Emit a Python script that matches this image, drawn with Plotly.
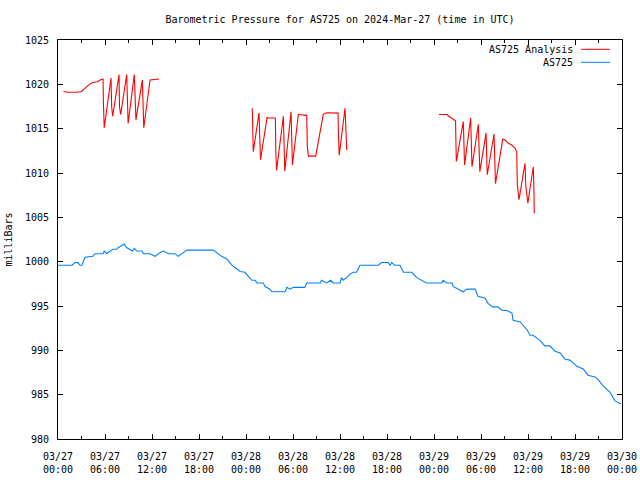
import plotly.graph_objects as go
import pandas as pd

# ---- data (hours since 2024-03-27 00:00 UTC, pressure in millibars) ----
START = "2024-03-27 00:00"

station_hours = [0, 1.8, 2.2, 2.55, 2.8, 3.05, 3.45, 4.45, 4.7, 5.75, 5.9, 6.2, 6.65, 7.0, 7.5, 7.7,
                 8.1, 8.45, 8.75, 9.2, 9.5, 9.75, 10.05, 10.75, 10.9, 11.75, 12.4, 13.0, 13.45, 14.1,
                 14.95, 15.35, 15.8, 16.45, 19.8, 20.25, 20.9, 21.55, 22.2, 22.8, 23.25, 23.85, 24.3,
                 24.75, 25.15, 25.4, 26.2, 26.45, 27.05, 27.3, 29.0, 29.2, 29.6, 30.05, 31.5, 31.75,
                 33.45, 33.65, 34.3, 34.8, 35.15, 36.0, 36.2, 36.4, 36.85, 37.3, 37.7, 38.1, 38.55,
                 40.9, 41.3, 42.15, 42.4, 42.6, 43.0, 43.65, 44.1, 45.15, 45.8, 46.45, 47.05, 49.0,
                 49.15, 49.65, 50.3, 50.45, 51.3, 51.7, 52.2, 53.25, 53.6, 54.5, 54.9, 55.5, 56.15,
                 56.7, 57.3, 57.95, 58.1, 59.0, 59.9, 60.25, 60.65, 61.55, 62.15, 62.8, 63.45, 64.1,
                 64.75, 65.35, 66.25, 67.05, 67.65, 68.55, 68.95, 69.6, 70.45, 71.1, 71.75, 71.9]
station_mb = [999.6, 999.6, 999.9, 999.9, 999.6, 999.6, 1000.5, 1000.6, 1000.9, 1000.9, 1001.2, 1000.9,
              1001.2, 1001.4, 1001.4, 1001.6, 1001.8, 1002.0, 1001.6, 1001.4, 1001.2, 1001.5, 1001.2,
              1001.2, 1000.9, 1000.9, 1000.6, 1001.0, 1001.2, 1000.9, 1000.9, 1000.6, 1000.9, 1001.3,
              1001.3, 1001.0, 1000.6, 1000.3, 999.6, 999.2, 998.9, 998.8, 998.3, 997.9, 997.9, 997.6,
              997.6, 997.2, 996.9, 996.6, 996.6, 997.1, 996.9, 997.1, 997.1, 997.6, 997.6, 997.9,
              997.6, 997.9, 997.6, 997.6, 998.2, 997.9, 998.2, 998.6, 998.8, 998.8, 999.6, 999.6,
              999.9, 999.9, 999.6, 999.9, 999.6, 999.6, 998.8, 998.8, 998.2, 997.9, 997.6, 997.6,
              997.9, 997.6, 997.6, 997.2, 996.8, 996.6, 996.9, 996.9, 996.1, 995.9, 995.3, 994.9,
              994.9, 994.5, 994.5, 994.2, 993.4, 993.2, 992.3, 991.7, 991.7, 991.1, 990.5, 990.5,
              989.9, 989.7, 989.0, 988.9, 988.2, 987.9, 987.2, 987.0, 986.7, 986.0, 985.3, 984.3,
              984.0, 984.0]

analysis_hours = [0.7, 1.3, 2.5, 3.0, 3.25, 3.6, 4.0, 4.4, 5.0, 5.4, 5.75, 5.8, 5.9, 6.77, 6.85, 6.98,
                  7.79, 7.85, 8.0, 8.77, 8.85, 8.95, 9.74, 9.85, 9.95, 10.77, 10.85, 10.95, 11.75, 12.9,
                  None,
                  24.8, 24.85, 24.93, 25.66, 25.75, 25.85, 26.7, 26.8, 27.6, 27.75, 27.8, 27.9, 28.77,
                  28.85, 28.95, 29.75, 29.83, 29.93, 30.68, 31.75, 31.83, 31.96, 32.9, 33.87, 34.3,
                  35.36, 35.75, 35.8, 35.9, 36.64, 36.73, 36.86,
                  None,
                  48.64, 49.7, 49.8, 50.2, 50.6, 50.75, 50.8, 50.85, 51.74, 51.83, 51.9, 52.68, 52.77,
                  52.85, 53.66, 53.79, 53.85, 54.64, 54.73, 54.8, 55.66, 55.79, 55.85, 56.77, 57.07,
                  57.5, 57.92, 58.34, 58.56, 58.64, 58.85, 59.62, 59.72, 59.98, 60.68, 60.77, 60.8]
analysis_mb = [1019.2, 1019.1, 1019.1, 1019.2, 1019.4, 1019.7, 1020.0, 1020.2, 1020.3, 1020.5, 1020.6,
               1017.9, 1015.1, 1020.7, 1017.5, 1016.4, 1021.1, 1017.5, 1016.6, 1021.1, 1017.0, 1015.6,
               1021.1, 1017.5, 1016.0, 1020.5, 1017.0, 1015.1, 1020.5, 1020.6,
               None,
               1017.3, 1014.7, 1012.4, 1016.8, 1013.0, 1011.5, 1016.3, 1016.2, 1016.2, 1016.2, 1012.5,
               1010.3, 1016.4, 1012.5, 1010.2, 1016.9, 1013.0, 1010.9, 1016.6, 1016.5, 1013.0, 1011.9,
               1011.9, 1016.65, 1016.8, 1016.8, 1016.75, 1014.3, 1012.0, 1017.3, 1014.0, 1012.6,
               None,
               1016.6, 1016.6, 1016.45, 1016.2, 1015.96, 1015.9, 1013.5, 1011.3, 1015.8, 1012.5,
               1010.9, 1016.2, 1012.5, 1010.7, 1015.5, 1012.0, 1010.15, 1014.5, 1011.5, 1009.8,
               1014.4, 1010.5, 1008.8, 1013.8, 1013.72, 1013.35, 1013.16, 1012.78, 1012.4, 1008.65,
               1007.0, 1011.1, 1008.5, 1006.6, 1010.7, 1007.5, 1005.45]

x_tick_hours = [0, 6, 12, 18, 24, 30, 36, 42, 48, 54, 60, 66, 72]
x_tick_labels = ["03/27<br>00:00", "03/27<br>06:00", "03/27<br>12:00", "03/27<br>18:00",
                 "03/28<br>00:00", "03/28<br>06:00", "03/28<br>12:00", "03/28<br>18:00",
                 "03/29<br>00:00", "03/29<br>06:00", "03/29<br>12:00", "03/29<br>18:00",
                 "03/30<br>00:00"]
y_ticks = [980, 985, 990, 995, 1000, 1005, 1010, 1015, 1020, 1025]

series_names = ["AS725 Analysis", "AS725"]
series_colors = ["#ff0000", "#0080ff"]

# ---- build ----
t0 = pd.Timestamp(START)


def to_time(hours):
    return [None if h is None else (t0 + pd.Timedelta(hours=h)) for h in hours]


FONT = "DejaVu Sans Mono"
fig = go.Figure()
fig.add_trace(go.Scatter(x=to_time(analysis_hours), y=analysis_mb, mode="lines",
                         name=series_names[0], connectgaps=False,
                         line=dict(color=series_colors[0], width=1.1)))
fig.add_trace(go.Scatter(x=to_time(station_hours), y=station_mb, mode="lines",
                         name=series_names[1],
                         line=dict(color=series_colors[1], width=1.1)))

fig.update_layout(
    width=640, height=480,
    margin=dict(l=58, r=18, t=40, b=41),
    paper_bgcolor="white", plot_bgcolor="white",
    showlegend=False,
    font=dict(family=FONT, size=10, color="black"),
    title=dict(text="Barometric Pressure for AS725 on 2024-Mar-27 (time in UTC)",
               x=340 / 640, xanchor="center", xref="container",
               y=1 - 19 / 480, yanchor="middle", yref="container",
               font=dict(family=FONT, size=10, color="black")),
)
fig.update_xaxes(
    type="date", automargin=False,
    range=[t0, t0 + pd.Timedelta(hours=72)],
    tickvals=to_time(x_tick_hours), ticktext=x_tick_labels,
    ticks="inside", ticklen=5, tickcolor="black", ticklabelstandoff=8,
    showline=True, linecolor="black", linewidth=1, mirror="allticks",
    showgrid=False, zeroline=False,
    minor=dict(dtick=3 * 3600 * 1000, ticks="inside", ticklen=3, tickcolor="black", showgrid=False),
    tickfont=dict(family=FONT, size=10),
)
fig.update_yaxes(
    range=[980, 1025], automargin=False,
    tickvals=y_ticks,
    ticks="inside", ticklen=5, tickcolor="black", ticklabelstandoff=6,
    showline=True, linecolor="black", linewidth=1, mirror="allticks",
    showgrid=False, zeroline=False,
    tickfont=dict(family=FONT, size=10),
    title=dict(text="milliBars", font=dict(family=FONT, size=10), standoff=10),
)

# legend drawn inside the plot (text right-aligned, line sample to the right)
leg_rows = [(439 - 49.3) / 399, (439 - 62.3) / 399]
for name, color, yy in zip(series_names, series_colors, leg_rows):
    fig.add_annotation(xref="paper", yref="paper", x=(575 - 58) / 564, y=yy,
                       text=name, showarrow=False, xanchor="right", yanchor="middle",
                       font=dict(family=FONT, size=10, color="black"))
    fig.add_shape(type="line", xref="paper", yref="paper",
                  x0=(581 - 58) / 564, x1=(610 - 58) / 564, y0=yy, y1=yy,
                  line=dict(color=color, width=1))

# remove the browser's default 8px body margin so the 640x480 figure fills the window
fig.write_html("out.html", config={"displayModeBar": False},
               post_script="document.body.style.margin='0';")
